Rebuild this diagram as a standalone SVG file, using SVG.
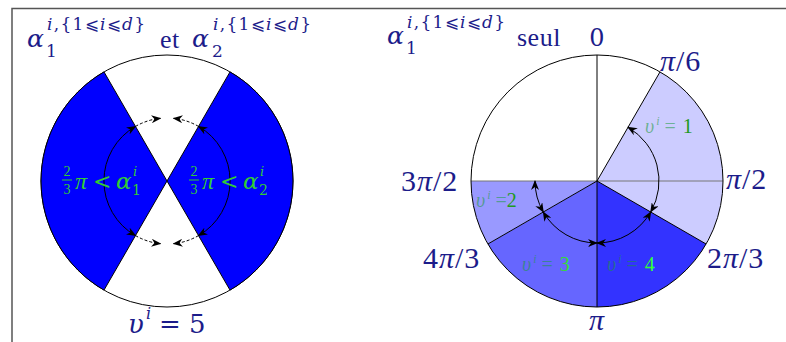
<svg xmlns="http://www.w3.org/2000/svg" width="786" height="342" viewBox="0 0 786 342">
<defs>
<marker id="ah" viewBox="0 0 10 8" refX="9" refY="4" markerWidth="10" markerHeight="8" markerUnits="userSpaceOnUse" orient="auto-start-reverse">
<path d="M0,0 L10,4 L0,8 L3,4 Z" fill="#000"/>
</marker>
</defs>
<style>
.t{font-family:"Liberation Serif","DejaVu Serif",serif;fill:#1c1c8a}
.m{font-family:"DejaVu Serif","Liberation Serif",serif;fill:#1c1c8a}
.sup{font-family:"DejaVu Serif","Liberation Serif",serif;fill:#1c1c8a;font-size:17px;letter-spacing:1.3px}
.i{font-style:italic}
.g{font-family:"Liberation Serif","DejaVu Serif",serif;fill:#33cc33}
.gm{font-family:"DejaVu Serif","Liberation Serif",serif;fill:#33cc33}
.lbl{font-family:"Liberation Serif","DejaVu Serif",serif;font-size:20px}
.fade{fill:#1a9a3a;fill-opacity:0.55}
.ang{font-family:"Liberation Serif","DejaVu Serif",serif;fill:#1c1c8a;font-size:30px;letter-spacing:1px}
.arc{fill:none;stroke:#000;stroke-width:1}
.dash{fill:none;stroke:#000;stroke-width:1;stroke-dasharray:3,2}
.sec{stroke:none}
</style>
<rect width="786" height="342" fill="#fff"/>
<path d="M12,342 V8.5 H786" fill="none" stroke="#555" stroke-width="1.5"/>

<g id="left-diagram">
<circle cx="167" cy="181" r="126" fill="#fff" stroke="#000"/>
<path d="M167,181 L230,71.9 A126,126 0 0 1 230,290.1 Z" fill="#0000ff" stroke="#000"/>
<path d="M167,181 L104,290.1 A126,126 0 0 1 104,71.9 Z" fill="#0000ff" stroke="#000"/>
</g>

<g id="left-connectors">
<path class="arc" d="M135.5,126.4 A63,63 0 0 0 135.5,235.6" marker-start="url(#ah)" marker-end="url(#ah)"/>
<path class="arc" d="M198.5,126.4 A63,63 0 0 1 198.5,235.6" marker-start="url(#ah)" marker-end="url(#ah)"/>
<path class="dash" d="M135.5,126.4 A63,63 0 0 1 160.4,118.3" marker-end="url(#ah)"/>
<path class="dash" d="M198.5,126.4 A63,63 0 0 0 173.6,118.3" marker-end="url(#ah)"/>
<path class="dash" d="M135.5,235.6 A63,63 0 0 0 160.4,243.7" marker-end="url(#ah)"/>
<path class="dash" d="M198.5,235.6 A63,63 0 0 1 173.6,243.7" marker-end="url(#ah)"/>
</g>

<g id="left-labels">
<text class="g" x="67" y="176" font-size="14" text-anchor="middle">2</text>
<line x1="62" y1="180" x2="72" y2="180" stroke="#33cc33" stroke-width="1"/>
<text class="g" x="67" y="194" font-size="14" text-anchor="middle">3</text>
<text class="g i" x="75" y="189" font-size="24">π</text>
<text class="gm" x="93" y="189" font-size="22">&lt;</text>
<text class="gm i" x="116" y="189" font-size="23">α</text>
<text class="gm i" x="133" y="176" font-size="13">i</text>
<text class="gm" x="132" y="195" font-size="14">1</text>

<text class="g" x="194" y="176" font-size="14" text-anchor="middle">2</text>
<line x1="189" y1="180" x2="199" y2="180" stroke="#33cc33" stroke-width="1"/>
<text class="g" x="194" y="194" font-size="14" text-anchor="middle">3</text>
<text class="g i" x="202" y="189" font-size="24">π</text>
<text class="gm" x="220" y="189" font-size="22">&lt;</text>
<text class="gm i" x="243" y="189" font-size="23">α</text>
<text class="gm i" x="260" y="176" font-size="13">i</text>
<text class="gm" x="259" y="195" font-size="14">2</text>
</g>

<g id="title-left">
<text class="m i" x="27" y="47" font-size="25">α</text>
<text class="m" x="46" y="57" font-size="17">1</text>
<text class="sup" x="47" y="30"><tspan class="i">i</tspan>,{1⩽<tspan class="i">i</tspan>⩽<tspan class="i">d</tspan>}</text>
<text class="t" x="160" y="48" font-size="26" letter-spacing="0.5">et</text>
<text class="m i" x="192" y="47" font-size="25">α</text>
<text class="m" x="212" y="57" font-size="17">2</text>
<text class="sup" x="213" y="30"><tspan class="i">i</tspan>,{1⩽<tspan class="i">i</tspan>⩽<tspan class="i">d</tspan>}</text>
</g>

<g id="label-v5">
<text class="m i" x="128" y="333" font-size="26">υ</text>
<text class="m i" x="146" y="319" font-size="16">i</text>
<text class="m" x="159" y="333" font-size="26">=</text>
<text class="m" x="189" y="333" font-size="26">5</text>
</g>

<g id="right-diagram">
<circle cx="597" cy="181" r="126" fill="#fff" stroke="none"/>
<path class="sec" d="M597,181 L660,71.9 A126,126 0 0 1 706.1,244 Z" fill="#ccccff"/>
<path class="sec" d="M597,181 L706.1,244 A126,126 0 0 1 597,307 Z" fill="#3333ff"/>
<path class="sec" d="M597,181 L597,307 A126,126 0 0 1 487.9,244 Z" fill="#6666ff"/>
<path class="sec" d="M597,181 L487.9,244 A126,126 0 0 1 471,181 Z" fill="#9999ff"/>
<line x1="471" y1="181" x2="723" y2="181" stroke="#777" stroke-width="1"/>
<line x1="597" y1="55" x2="597" y2="307" stroke="#000" stroke-width="1"/>
<line x1="597" y1="181" x2="660" y2="71.9" stroke="#000" stroke-width="1"/>
<line x1="597" y1="181" x2="706.1" y2="244" stroke="#000" stroke-width="1"/>
<line x1="597" y1="181" x2="487.9" y2="244" stroke="#000" stroke-width="1"/>
<circle cx="597" cy="181" r="126" fill="none" stroke="#000"/>
</g>

<g id="right-connectors">
<path class="arc" d="M628,127.3 A62,62 0 0 1 650.7,212" marker-start="url(#ah)" marker-end="url(#ah)"/>
<path class="arc" d="M650.7,212 A62,62 0 0 1 597,243" marker-start="url(#ah)" marker-end="url(#ah)"/>
<path class="arc" d="M597,243 A62,62 0 0 1 543.3,212" marker-start="url(#ah)" marker-end="url(#ah)"/>
<path class="arc" d="M543.3,212 A62,62 0 0 1 535,181" marker-start="url(#ah)" marker-end="url(#ah)"/>
</g>

<g id="right-sector-labels">
<text class="lbl" x="645" y="133"><tspan class="fade i">υ</tspan><tspan class="fade i" dx="2" dy="-8" font-size="12">i</tspan><tspan class="fade" dy="8" dx="5">=</tspan><tspan fill="#229922" dx="7">1</tspan></text>
<text class="lbl" x="476" y="207"><tspan class="fade i">υ</tspan><tspan class="fade i" dx="2" dy="-8" font-size="12">i</tspan><tspan class="fade" dy="8" dx="5">=</tspan><tspan fill="#229922">2</tspan></text>
<text class="lbl" x="522" y="271"><tspan class="fade i">υ</tspan><tspan class="fade i" dx="2" dy="-8" font-size="12">i</tspan><tspan class="fade" dy="8" dx="5">=</tspan><tspan fill="#33dd33" dx="7">3</tspan></text>
<text class="lbl" x="607" y="271"><tspan class="fade i">υ</tspan><tspan class="fade i" dx="2" dy="-8" font-size="12">i</tspan><tspan class="fade" dy="8" dx="5">=</tspan><tspan fill="#33ff33" dx="7">4</tspan></text>
</g>

<g id="title-right">
<text class="m i" x="387" y="44" font-size="25">α</text>
<text class="m" x="406" y="54" font-size="17">1</text>
<text class="sup" x="407" y="28"><tspan class="i">i</tspan>,{1⩽<tspan class="i">i</tspan>⩽<tspan class="i">d</tspan>}</text>
<text class="t" x="517" y="46" font-size="26" letter-spacing="0.5">seul</text>
</g>

<g id="angle-labels">
<text class="m" x="597" y="46" font-size="24" text-anchor="middle">0</text>
<text class="ang" x="660" y="71"><tspan class="i">π</tspan>/6</text>
<text class="ang" x="726" y="189"><tspan class="i">π</tspan>/2</text>
<text class="ang" x="707" y="268">2<tspan class="i">π</tspan>/3</text>
<text class="ang" x="597" y="330" text-anchor="middle" font-style="italic">π</text>
<text class="ang" x="423" y="268">4<tspan class="i">π</tspan>/3</text>
<text class="ang" x="401" y="191">3<tspan class="i">π</tspan>/2</text>
</g>
</svg>
